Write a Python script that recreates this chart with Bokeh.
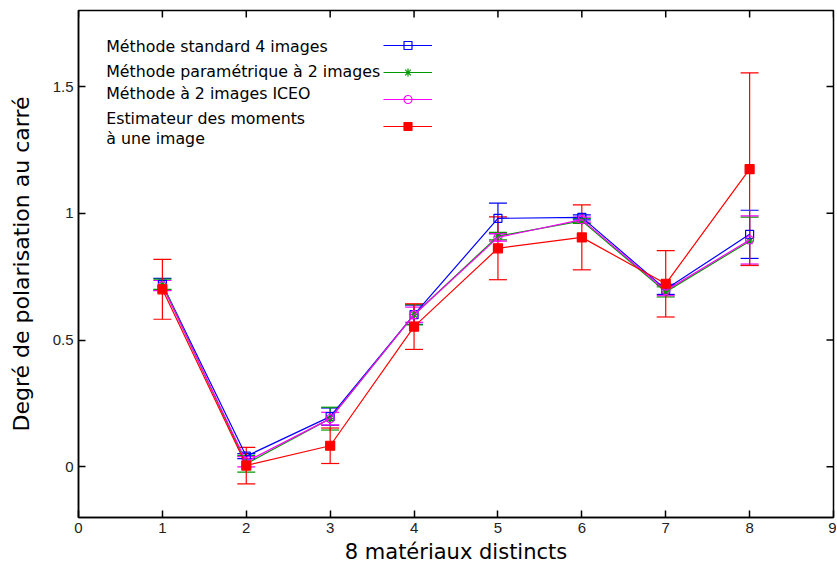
from bokeh.plotting import figure
from bokeh.models import (Whisker, TeeHead, ColumnDataSource, FixedTicker,
                          Legend, LegendItem, Range1d, Label)
from bokeh.embed import file_html
from bokeh.resources import INLINE

materials = [1, 2, 3, 4, 5, 6, 7, 8]
standard4 = [0.72, 0.042, 0.198, 0.60, 0.98, 0.984, 0.70, 0.917]
standard4_err = [0.023, 0.01, 0.034, 0.038, 0.06, 0.01, 0.02, 0.095]
param2 = [0.72, 0.012, 0.19, 0.60, 0.91, 0.97, 0.69, 0.89]
param2_err = [0.02, 0.033, 0.045, 0.04, 0.015, 0.01, 0.02, 0.095]
iceo2 = [0.715, 0.02, 0.19, 0.60, 0.905, 0.975, 0.695, 0.895]
iceo2_err = [0.02, 0.02, 0.025, 0.03, 0.015, 0.01, 0.02, 0.095]
moments1 = [0.70, 0.005, 0.083, 0.553, 0.862, 0.905, 0.722, 1.174]
moments1_err = [0.118, 0.072, 0.07, 0.09, 0.124, 0.128, 0.131, 0.38]

labels = ["Méthode standard 4 images", "Méthode paramétrique à 2 images",
          "Méthode à 2 images ICEO", "Estimateur des moments\nà une image"]
x_ticks = [0, 1, 2, 3, 4, 5, 6, 7, 8, 9]
y_ticks = [0, 0.5, 1, 1.5]
y_tick_labels = ["0", "0.5", "1", "1.5"]

FONT = "DejaVu Sans"
TICKFONT = "Liberation Sans"
X0, X1, Y0, Y1 = 0, 9, -0.2, 1.8

p = figure(width=836, height=566, output_backend="svg", toolbar_location=None,
           x_range=Range1d(X0, X1), y_range=Range1d(Y0, Y1),
           min_border_left=78, min_border_right=3, min_border_top=10, min_border_bottom=4)
p.grid.visible = False
p.outline_line_color = "black"
p.outline_line_width = 1.5
p.background_fill_color = "white"

p.xaxis.ticker = FixedTicker(ticks=x_ticks)
p.yaxis.ticker = FixedTicker(ticks=y_ticks)
p.yaxis.major_label_overrides = {t: l for t, l in zip(y_ticks, y_tick_labels)}
p.xaxis.axis_label = "8 matériaux distincts"
p.yaxis.axis_label = "Degré de polarisation au carré"
for ax in [p.xaxis[0], p.yaxis[0]]:
    ax.axis_label_text_font = FONT
    ax.axis_label_text_font_style = "normal"
    ax.axis_label_text_color = "black"
    ax.major_label_text_font = TICKFONT
    ax.major_label_text_font_size = "15px"
    ax.major_label_text_color = "#222222"
    ax.major_tick_in = 7
    ax.major_tick_out = 0
    ax.minor_tick_line_color = None
    ax.axis_line_width = 1.5
    ax.major_tick_line_width = 1.5
p.xaxis.axis_label_text_font_size = "21px"
p.yaxis.axis_label_text_font_size = "22px"
p.xaxis.axis_label_standoff = 4
p.yaxis.axis_label_standoff = 16

# mirrored inward ticks on the top and right edges of the frame
frame_w, frame_h = 755, 507
tick_px = 7
ty = tick_px * (Y1 - Y0) / frame_h
tx = tick_px * (X1 - X0) / frame_w
p.segment(x0=x_ticks, x1=x_ticks, y0=[Y1] * len(x_ticks), y1=[Y1 - ty] * len(x_ticks),
          line_color="black", line_width=1.5)
p.segment(x0=[X1] * len(y_ticks), x1=[X1 - tx] * len(y_ticks), y0=y_ticks, y1=y_ticks,
          line_color="black", line_width=1.5)

series = [
    (standard4, standard4_err, "#0000ff", "square", False, 8),
    (param2, param2_err, "#009900", "asterisk", False, 8),
    (iceo2, iceo2_err, "#ff00ff", "circle", False, 8),
    (moments1, moments1_err, "#ff0000", "square", True, 9),
]

items = []
for (vals, errs, color, marker, filled, size), lab in zip(series, labels):
    src = ColumnDataSource(dict(x=materials, y=vals,
                                lo=[v - e for v, e in zip(vals, errs)],
                                hi=[v + e for v, e in zip(vals, errs)]))
    w = Whisker(source=src, base="x", lower="lo", upper="hi", line_color=color, line_width=1.2,
                upper_head=TeeHead(size=18, line_color=color, line_width=1.2),
                lower_head=TeeHead(size=18, line_color=color, line_width=1.2))
    p.add_layout(w)
    ln = p.line("x", "y", source=src, line_color=color, line_width=1.2)
    sc = p.scatter("x", "y", source=src, marker=marker, size=size, line_color=color,
                   fill_color=color if filled else None, line_width=1.2)
    items.append(LegendItem(label=" ", renderers=[ln, sc]))

legend = Legend(items=items, location=(305, 381), glyph_width=49, glyph_height=20,
                label_height=20, spacing=7, padding=0, margin=0,
                border_line_color=None, background_fill_alpha=0,
                label_text_font_size="2px", label_standoff=0)
p.add_layout(legend, "center")

text_rows = [(labels[0], 1.658), (labels[1], 1.559), (labels[2], 1.473),
             (labels[3].split("\n")[0], 1.374), (labels[3].split("\n")[1], 1.295)]
for t, yy in text_rows:
    p.add_layout(Label(x=0.33, y=yy, text=t, text_font=FONT, text_font_size="15.8px",
                       text_baseline="middle", text_align="left", text_color="black"))

open("out.html", "w").write(file_html(p, INLINE))
